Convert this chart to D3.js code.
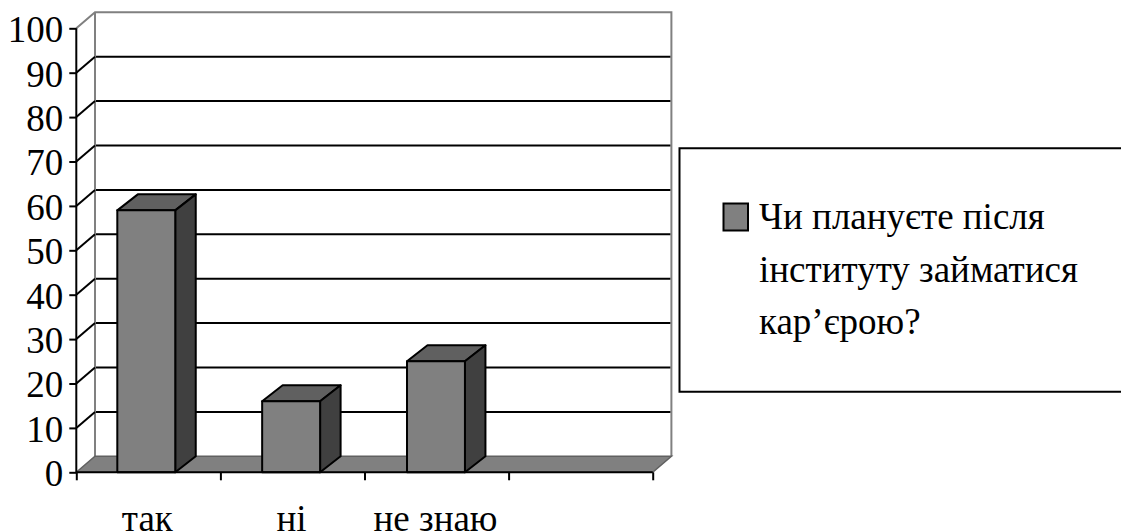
<!DOCTYPE html>
<html>

<head>
    <meta charset="utf-8">
    <title>Чи плануєте після інституту займатися кар'єрою?</title>
    <script src="https://d3js.org/d3.v7.min.js"></script>
    <style>
        html, body { margin: 0; padding: 0; background: #fff; overflow: hidden; }
        text { font-family: "Liberation Serif", serif; fill: #000; }
    </style>
</head>

<body>
    <div id="graph"></div>

    <script>
        // Data
        const categories = ["так", "ні", "не знаю", ""];
        const values = [59, 16, 25];
        const yTicks = [0, 10, 20, 30, 40, 50, 60, 70, 80, 90, 100];
        const legendLines = ["Чи плануєте після", "інституту займатися", "кар’єрою?"];

        const width = 1121, height = 532;
        const depthX = 18.7, depthY = -16;
        const barDepthX = 20.5;
        const plotLeft = 76.3, plotRight = 652.7, plotBottom = 472.3, plotTop = 28.3;
        const fontSize = "37px";

        const svg = d3.select("#graph").append("svg")
            .attr("width", width)
            .attr("height", height)
            .style("display", "block");

        const y = d3.scaleLinear().domain([0, 100]).range([plotBottom, plotTop]);

        // Edges of the category slots, used for the ticks
        const xTick = d3.scaleLinear().domain([0, categories.length]).range([plotLeft, plotRight]);

        const x = d3.scaleBand()
            .domain(categories)
            .range([73.85, 653.25])
            .paddingInner(0.6)
            .paddingOuter(0.3);

        const xLabel = d3.scaleBand().domain(categories).range([plotLeft - 1, plotRight - 1]);

        const gray = "#808080";

        // Back and side walls
        svg.append("path")
            .attr("d", `M${plotLeft},${y(100)}L${plotLeft + depthX},${y(100) + depthY}H${plotRight + depthX}V${plotBottom + depthY}`)
            .attr("fill", "none")
            .attr("stroke", gray)
            .attr("stroke-width", 2);

        svg.append("line")
            .attr("x1", plotLeft + depthX).attr("x2", plotLeft + depthX)
            .attr("y1", y(100) + depthY).attr("y2", plotBottom + depthY)
            .attr("stroke", gray)
            .attr("stroke-width", 2);

        // Floor
        svg.append("path")
            .attr("d", `M${plotLeft},${plotBottom}L${plotLeft + depthX},${plotBottom + depthY}H${plotRight + depthX}L${plotRight},${plotBottom}Z`)
            .attr("fill", gray)
            .attr("stroke", "#606060")
            .attr("stroke-width", 1.5);

        // Gridlines with their diagonal on the side wall
        const grid = yTicks.filter(d => d > 0 && d < 100);

        svg.append("g").selectAll("line")
            .data(grid)
            .enter()
            .append("line")
            .attr("x1", plotLeft + depthX + 1)
            .attr("x2", plotRight + depthX - 1)
            .attr("y1", d => y(d) + depthY)
            .attr("y2", d => y(d) + depthY)
            .attr("stroke", "#000")
            .attr("stroke-width", 2);

        svg.append("g").selectAll("line")
            .data(grid)
            .enter()
            .append("line")
            .attr("x1", plotLeft)
            .attr("x2", plotLeft + depthX)
            .attr("y1", d => y(d))
            .attr("y2", d => y(d) + depthY)
            .attr("stroke", "#000")
            .attr("stroke-width", 2);

        // Bars
        const bars = svg.append("g")
            .selectAll("g")
            .data(values)
            .enter()
            .append("g")
            .attr("stroke", "#000")
            .attr("stroke-width", 2)
            .attr("stroke-linejoin", "round");

        bars.append("path")
            .attr("fill", "#606060")
            .attr("d", (d, i) => {
                const x0 = x(categories[i]), x1 = x0 + x.bandwidth();
                return `M${x0},${y(d)}L${x0 + barDepthX},${y(d) + depthY}H${x1 + barDepthX}L${x1},${y(d)}Z`;
            });

        bars.append("path")
            .attr("fill", "#404040")
            .attr("d", (d, i) => {
                const x1 = x(categories[i]) + x.bandwidth();
                return `M${x1},${y(d)}L${x1 + barDepthX},${y(d) + depthY}V${plotBottom + depthY}L${x1},${plotBottom}Z`;
            });

        bars.append("rect")
            .attr("fill", gray)
            .attr("x", (d, i) => x(categories[i]))
            .attr("y", d => y(d))
            .attr("width", x.bandwidth())
            .attr("height", d => plotBottom - y(d));

        // Axes
        const yAxis = svg.append("g")
            .attr("transform", `translate(${plotLeft},0)`)
            .call(d3.axisLeft(y).tickValues(yTicks).tickSize(7).tickPadding(6));

        yAxis.selectAll("line, path").attr("stroke", "#000").attr("stroke-width", 2);
        yAxis.select(".domain").attr("d", `M0,${y(100)}V${plotBottom}`);
        yAxis.selectAll("text")
            .style("font-family", '"Liberation Serif", serif')
            .style("font-size", fontSize)
            .attr("dy", "0.36em");

        const xAxis = svg.append("g")
            .attr("transform", `translate(0,${plotBottom})`)
            .call(d3.axisBottom(xTick).ticks(categories.length).tickSize(8).tickFormat(""));

        xAxis.selectAll("line, path").attr("stroke", "#000").attr("stroke-width", 2);
        xAxis.select(".domain").attr("d", `M${plotLeft},0H${plotRight}`);

        svg.append("g").selectAll("text")
            .data(categories.filter(d => d))
            .enter()
            .append("text")
            .attr("x", d => xLabel(d) + xLabel.bandwidth() / 2)
            .attr("y", 531)
            .attr("text-anchor", "middle")
            .style("font-size", fontSize)
            .text(d => d);

        // Legend
        const legend = svg.append("g");

        legend.append("path")
            .attr("d", "M1122,148.3H679.5V391.7H1122")
            .attr("fill", "#fff")
            .attr("stroke", "#000")
            .attr("stroke-width", 2);

        legend.append("rect")
            .attr("x", 723.5)
            .attr("y", 203.5)
            .attr("width", 24.5)
            .attr("height", 27)
            .attr("fill", gray)
            .attr("stroke", "#000")
            .attr("stroke-width", 2);

        legend.selectAll("text")
            .data(legendLines)
            .enter()
            .append("text")
            .attr("x", 759)
            .attr("y", (d, i) => 229 + i * 52.5)
            .style("font-size", fontSize)
            .text(d => d);
    </script>
</body>

</html>
